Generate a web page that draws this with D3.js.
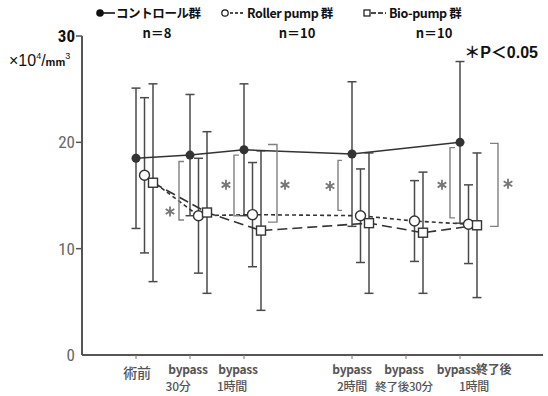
<!DOCTYPE html>
<html><head><meta charset="utf-8">
<script src="https://cdn.jsdelivr.net/npm/d3@7"></script>
<style>
html,body{margin:0;padding:0;background:#fff;}
svg{display:block;font-family:"Noto Sans CJK JP","Noto Sans",sans-serif;}
</style></head>
<body><svg id="c" width="548" height="396"></svg>
<script>
// ---- data ----
const categories = ["術前", "bypass 30分", "bypass 1時間", "bypass 2時間", "bypass 終了後30分", "bypass終了後 1時間"];
const labelLines = [["術前"], ["bypass", "30分"], ["bypass", "1時間"], ["bypass", "2時間"], ["bypass", "終了後30分"], ["bypass終了後", "1時間"]];
const timeIndex = [0, 1, 2, 4, 5, 6];
const yTicks = [0, 10, 20, 30];
const controlMean = [18.5, 18.8, 19.3, 18.9, null, 20.0];
const controlSD   = [6.6, 5.7, 6.2, 6.8, null, 7.6];
const rollerMean  = [16.9, 13.1, 13.2, 13.1, 12.6, 12.3];
const rollerSD    = [7.3, 5.4, 4.9, 4.4, 3.8, 3.7];
const bioMean     = [16.2, 13.4, 11.7, 12.4, 11.5, 12.2];
const bioSD       = [9.3, 7.6, 7.5, 6.6, 5.7, 6.8];
const legendNames = ["コントロール群", "Roller pump 群", "Bio-pump 群"];
const legendN = ["n＝8", "n＝10", "n＝10"];
// significance brackets: point index, value range, asterisk value
const sigPoint  = [1, 2, 2, 3, 5, 5];
const sigTop    = [18.2, 18.8, 19.8, 18.3, 19.5, 19.9];
const sigBottom = [12.7, 13.1, 12.5, 13.6, 12.9, 12.1];
const sigStar   = [13.5, 16.0, 16.0, 15.9, 16.0, 16.1];

// ---- layout ----
const svg = d3.select("#c");
const x = d3.scaleLinear().domain([0, 6]).range([136, 460]);
const y = d3.scaleLinear().domain([0, 30]).range([355, 36]);
const axisX0 = 82, axisX1 = 543;
const ink = "#333", bar = "#4a4a4a", gray = "#808080";

// axes
svg.append("line").attr("x1", axisX0).attr("x2", axisX0).attr("y1", y(30)).attr("y2", y(0))
  .attr("stroke", "#555").attr("stroke-width", 2);
svg.append("line").attr("x1", axisX0).attr("x2", axisX1).attr("y1", y(0)).attr("y2", y(0))
  .attr("stroke", "#555").attr("stroke-width", 2);
yTicks.forEach(t => {
  if (t > 0) svg.append("line").attr("x1", axisX0 - 6).attr("x2", axisX0).attr("y1", y(t)).attr("y2", y(t))
    .attr("stroke", "#555").attr("stroke-width", 1.5);
  svg.append("text").attr("x", axisX0 - 7).attr("y", y(t) + 6).attr("text-anchor", "end")
    .attr("font-size", 17).attr("font-family", "'Liberation Sans Narrow','Roboto Condensed','Liberation Sans',sans-serif")
    .attr("font-weight", t === 30 ? "bold" : "normal")
    .attr("fill", t === 30 ? "#111" : "#666").text(t);
});
// unit label
const unit = svg.append("text").attr("x", 9).attr("y", 66).attr("font-size", 16).attr("fill", "#111")
  .attr("font-family", "'Liberation Sans','Noto Sans',sans-serif");
unit.append("tspan").text("×10");
unit.append("tspan").attr("dy", -7).attr("font-size", 9).text("4");
unit.append("tspan").attr("dy", 7).text("/");
unit.append("tspan").attr("font-size", 11).attr("font-weight", "bold").text("mm");
unit.append("tspan").attr("dy", -7).attr("font-size", 9).text("3");

// x ticks and labels
const labelShift = [1, -2, -6, 0, -2, 14];
timeIndex.forEach((ti, i) => {
  svg.append("line").attr("x1", x(ti)).attr("x2", x(ti)).attr("y1", y(0)).attr("y2", y(0) + 4)
    .attr("stroke", "#777").attr("stroke-width", 1);
  const lines = labelLines[i];
  lines.forEach((ln, k) => {
    const latin = /[a-z]/.test(ln);
    svg.append("text").attr("x", x(ti) + labelShift[i] + (k === 1 && i === 1 ? -10 : 0) + (k === 1 && i === 2 ? -6 : 0))
      .attr("y", (lines.length === 1 ? 378 : 374 + k * 17))
      .attr("text-anchor", "middle")
      .attr("font-size", lines.length === 1 ? 14 : (latin ? 12 : (ln.length > 4 ? 11.5 : 12)))
      .attr("font-weight", latin ? "bold" : 500)
      .attr("fill", "#555").attr("letter-spacing", -0.3).text(ln);
  });
});

// series
const series = [
  {mean: controlMean, sd: controlSD, off: 0, dash: null, marker: "fill"},
  {mean: rollerMean, sd: rollerSD, off: 8.5, dash: "4,3", marker: "circle"},
  {mean: bioMean, sd: bioSD, off: 17, dash: "10,5", marker: "square"}
];
const capW = 4.5;
series.forEach(s => {
  s.mean.forEach((m, i) => {
    if (m == null) return;
    const cx = x(timeIndex[i]) + s.off;
    const top = m + s.sd[i], bot = m - s.sd[i];
    svg.append("line").attr("x1", cx).attr("x2", cx).attr("y1", y(top)).attr("y2", y(bot)).attr("stroke", bar).attr("stroke-width", 1.5);
    [top, bot].forEach(v => svg.append("line").attr("x1", cx - capW).attr("x2", cx + capW).attr("y1", y(v)).attr("y2", y(v))
      .attr("stroke", bar).attr("stroke-width", 1.5));
  });
});
series.forEach(s => {
  const pts = s.mean.map((m, i) => m == null ? null : [x(timeIndex[i]) + s.off, y(m)]).filter(p => p);
  svg.append("path").attr("d", d3.line()(pts)).attr("fill", "none").attr("stroke", ink)
    .attr("stroke-width", s.dash ? 1.6 : 1.5).attr("stroke-dasharray", s.dash);
});
series.forEach(s => {
  s.mean.forEach((m, i) => {
    if (m == null) return;
    const cx = x(timeIndex[i]) + s.off, cy = y(m);
    if (s.marker === "fill") svg.append("circle").attr("cx", cx).attr("cy", cy).attr("r", 4.5).attr("fill", "#333");
    else if (s.marker === "circle") svg.append("circle").attr("cx", cx).attr("cy", cy).attr("r", 5).attr("fill", "#fff").attr("stroke", ink).attr("stroke-width", 1.4);
    else svg.append("rect").attr("x", cx - 4.5).attr("y", cy - 4.5).attr("width", 9).attr("height", 9).attr("fill", "#fff").attr("stroke", ink).attr("stroke-width", 1.4);
  });
});

// significance brackets
const sigLayout = [
  {vx: -11, arm: 5, sx: -20},
  {vx: -10, arm: 5, sx: -18},
  {vx: 33, arm: -9, sx: 41},
  {vx: -14, arm: 4, sx: -22},
  {vx: -10, arm: 5, sx: -18},
  {vx: 38, arm: -8, sx: 48}
];
function asterisk(cx, cy, r) {
  let d = "";
  for (let a = 0; a < 3; a++) {
    const ang = Math.PI / 2 + a * Math.PI / 3;
    const dx = r * Math.cos(ang), dy = r * Math.sin(ang);
    d += `M${cx - dx},${cy - dy}L${cx + dx},${cy + dy}`;
  }
  return d;
}
sigPoint.forEach((p, j) => {
  const L = sigLayout[j];
  const bx = x(timeIndex[p]) + L.vx;
  const t = y(sigTop[j]), b = y(sigBottom[j]);
  svg.append("path").attr("d", `M${bx + L.arm},${t}H${bx}V${b}H${bx + L.arm}`)
    .attr("fill", "none").attr("stroke", gray).attr("stroke-width", 1.4);
  svg.append("path").attr("d", asterisk(x(timeIndex[p]) + L.sx, y(sigStar[j]), 5))
    .attr("stroke", "#777").attr("stroke-width", 1.8).attr("fill", "none");
});

// legend
const legX = [97, 222, 364];
const legNX = [157, 297, 434];
legendNames.forEach((name, k) => {
  const g = svg.append("g");
  const lx = legX[k], ly = 17;
  if (k === 0) {
    g.append("circle").attr("cx", lx + 3).attr("cy", ly - 4).attr("r", 3.8).attr("fill", "#111");
    g.append("line").attr("x1", lx + 6).attr("x2", lx + 18).attr("y1", ly - 4).attr("y2", ly - 4).attr("stroke", "#111").attr("stroke-width", 1.6);
  } else if (k === 1) {
    g.append("circle").attr("cx", lx + 3).attr("cy", ly - 4).attr("r", 3.2).attr("fill", "#fff").attr("stroke", "#111").attr("stroke-width", 1.2);
    g.append("line").attr("x1", lx + 8).attr("x2", lx + 21).attr("y1", ly - 4).attr("y2", ly - 4).attr("stroke", "#111").attr("stroke-width", 1.5).attr("stroke-dasharray", "3,2");
  } else {
    g.append("rect").attr("x", lx).attr("y", ly - 7).attr("width", 6).attr("height", 6).attr("fill", "#fff").attr("stroke", "#111").attr("stroke-width", 1.2);
    g.append("line").attr("x1", lx + 7).attr("x2", lx + 22).attr("y1", ly - 4).attr("y2", ly - 4).attr("stroke", "#111").attr("stroke-width", 1.5).attr("stroke-dasharray", "5,2");
  }
  g.append("text").attr("x", lx + (k === 0 ? 19 : 25)).attr("y", ly + 1).attr("font-size", 12.5).attr("font-weight", "bold")
    .attr("fill", "#111").attr("letter-spacing", -0.4).text(name);
  svg.append("text").attr("x", legNX[k]).attr("y", 38).attr("text-anchor", "middle").attr("font-size", 13)
    .attr("font-weight", "bold").attr("fill", "#111").text(legendN[k]);
});
svg.append("text").attr("x", 538).attr("y", 58).attr("text-anchor", "end").attr("font-size", 16)
  .attr("font-weight", "bold").attr("fill", "#111").attr("font-family", "'Liberation Sans','Noto Sans CJK JP',sans-serif")
  .text("＊P＜0.05");
</script></body></html>
